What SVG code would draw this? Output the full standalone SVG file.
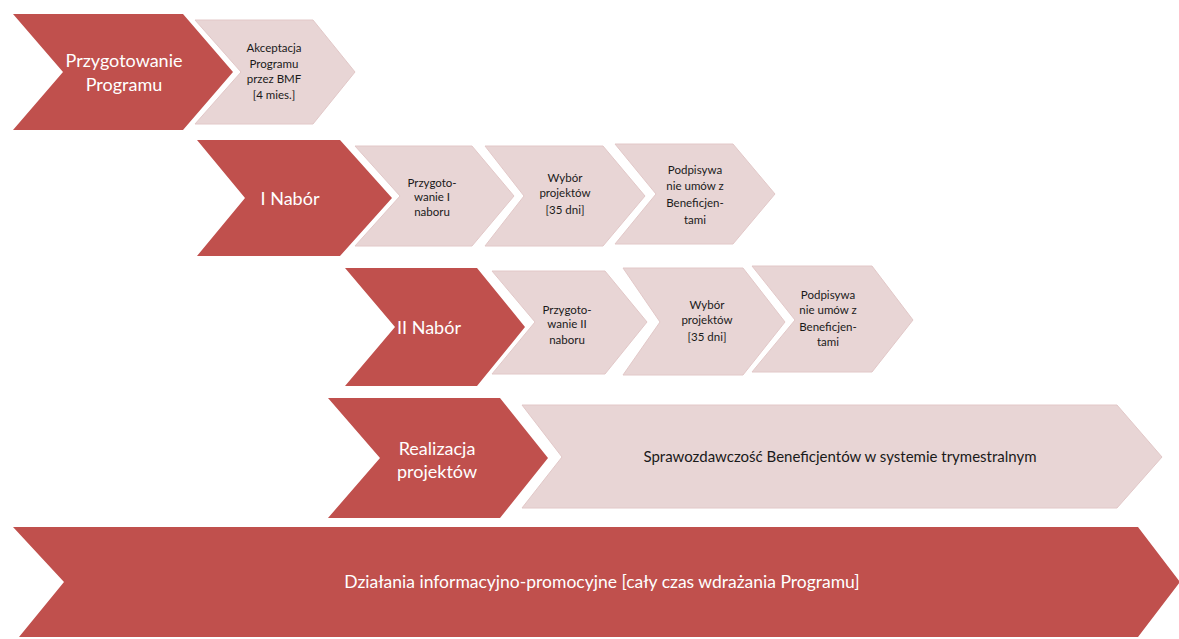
<svg xmlns="http://www.w3.org/2000/svg" width="1179" height="639" viewBox="0 0 1179 639">
<style>
.dk{fill:#C0504D;}
.lt{fill:#E8D5D5;stroke:#E2C8C8;stroke-width:1;}
.tw{fill:#FFFFFF;font-family:Lato,"Open Sans","Liberation Sans",sans-serif;font-size:18px;text-anchor:middle;}
.tb{fill:#1A1A1A;font-family:Lato,"Open Sans","Liberation Sans",sans-serif;font-size:11.5px;text-anchor:middle;}
.tm{fill:#1A1A1A;font-family:Lato,"Open Sans","Liberation Sans",sans-serif;font-size:15px;text-anchor:middle;}
.tl{fill:#FFFFFF;font-family:Lato,"Open Sans","Liberation Sans",sans-serif;font-size:17.5px;text-anchor:middle;}
</style>
<rect width="1179" height="639" fill="#FFFFFF"/>
<g id="connectors"></g>

<g id="przygotowanie-programu">
<polygon class="dk" points="13,14 183,14 233,72 183,130 13,130 63,72"/>
<text class="tw" x="124" y="67">Przygotowanie</text>
<text class="tw" x="124" y="91">Programu</text>
</g>
<g id="akceptacja">
<polygon class="lt" points="195,20 313,20 355,72 313,124 195,124 241,72"/>
<text class="tb" x="274" y="52">Akceptacja</text>
<text class="tb" x="274" y="68">Programu</text>
<text class="tb" x="274" y="83">przez BMF</text>
<text class="tb" x="274" y="99">[4 mies.]</text>
</g>

<g id="nabor-1">
<polygon class="dk" points="197,140 340,140 392,198 340,256 197,256 245,198"/>
<text class="tw" x="290" y="205">I Nabór</text>
</g>
<g id="nabor-1-przygotowanie">
<polygon class="lt" points="355,146 472,146 514,196 472,246 355,246 400,196"/>
<text class="tb" x="432" y="187">Przygoto-</text>
<text class="tb" x="432" y="201">wanie I</text>
<text class="tb" x="432" y="216">naboru</text>
</g>
<g id="nabor-1-wybor">
<polygon class="lt" points="485,146 603,146 645,196 603,246 485,246 524,196"/>
<text class="tb" x="565" y="182">Wybór</text>
<text class="tb" x="565" y="197">projektów</text>
<text class="tb" x="565" y="214">[35 dni]</text>
</g>
<g id="nabor-1-umowy">
<polygon class="lt" points="615,144 733,144 775,194 733,244 615,244 656,194"/>
<text class="tb" x="695" y="174">Podpisywa</text>
<text class="tb" x="695" y="190">nie umów z</text>
<text class="tb" x="695" y="207">Beneficjen-</text>
<text class="tb" x="695" y="224">tami</text>
</g>

<g id="nabor-2">
<polygon class="dk" points="345,268 477,268 525,327 477,386 345,386 395,327"/>
<text class="tw" x="429" y="334">II Nabór</text>
</g>
<g id="nabor-2-przygotowanie">
<polygon class="lt" points="492,271 605,271 647,322 605,374 492,374 535,322"/>
<text class="tb" x="567" y="314">Przygoto-</text>
<text class="tb" x="567" y="328">wanie II</text>
<text class="tb" x="567" y="344">naboru</text>
</g>
<g id="nabor-2-wybor">
<polygon class="lt" points="623,268 743,268 785,322 743,375 623,375 660,322"/>
<text class="tb" x="707" y="309">Wybór</text>
<text class="tb" x="707" y="324">projektów</text>
<text class="tb" x="707" y="341">[35 dni]</text>
</g>
<g id="nabor-2-umowy">
<polygon class="lt" points="752,266 872,266 913,320 872,372 752,372 795,320"/>
<text class="tb" x="828" y="299">Podpisywa</text>
<text class="tb" x="828" y="314">nie umów z</text>
<text class="tb" x="828" y="331">Beneficjen-</text>
<text class="tb" x="828" y="346">tami</text>
</g>

<g id="realizacja">
<polygon class="dk" points="328,398 500,398 548,458 500,518 328,518 380,458"/>
<text class="tw" x="437" y="455">Realizacja</text>
<text class="tw" x="437" y="478">projektów</text>
</g>
<g id="sprawozdawczosc">
<polygon class="lt" points="522,405 1117,405 1162,457 1117,508 522,508 562,457"/>
<text class="tm" x="840" y="462">Sprawozdawczość Beneficjentów w systemie trymestralnym</text>
</g>

<g id="dzialania">
<polygon class="dk" points="13,527 1138,527 1180,582 1138,637 19,637 64,582"/>
<text class="tl" x="602" y="588">Działania informacyjno-promocyjne [cały czas wdrażania Programu]</text>
</g>
</svg>
